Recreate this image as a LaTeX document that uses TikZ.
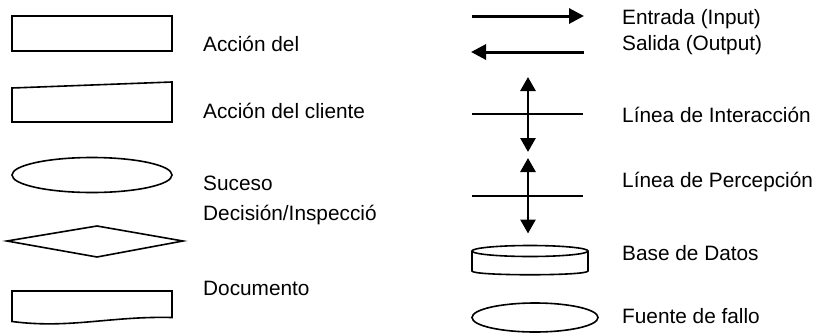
\documentclass[tikz,border=0pt]{standalone}
\usepackage{fontspec}
\setmainfont{Liberation Sans}
\usetikzlibrary{arrows.meta}
\begin{document}
\begin{tikzpicture}[x=1pt,y=-1pt,
  shapeline/.style={draw=black,line width=1.6pt,line join=miter},
  flowarrow/.style={line width=3pt,-{Triangle[length=15pt,width=15pt]}},
  twoway/.style={line width=2.8pt,{Triangle[length=14pt,width=15pt]}-{Triangle[length=14pt,width=15pt]}},
  hline/.style={line width=1.8pt},
  lbl/.style={anchor=base west,inner sep=0pt,font=\fontsize{20.8pt}{26pt}\selectfont}]
\useasboundingbox (0,0) rectangle (822,335);
% left column shapes
\draw[shapeline] (12,16) rectangle (172,51);
\draw[shapeline] (12,88) -- (172,82) -- (172,122) -- (12,122) -- cycle;
\draw[shapeline] (92,175) ellipse [x radius=80, y radius=17.5];
\draw[shapeline] (7,241) -- (97,226) -- (183,241) -- (97,257) -- cycle;
\draw[shapeline] (12,291) -- (172,291) -- (172,317.5)
  .. controls (110,316) and (70,329) .. (12,321.5) -- cycle;
% left labels
\node[lbl] (t1) at (203,51.5) {Acción del};
\node[lbl] (t2) at (203,118) {Acción del cliente};
\node[lbl] (t3) at (203,190.5) {Suceso};
\node[lbl] (t4) at (203,220.5) {Decisión/Inspecció};
\node[lbl] (t5) at (203,295.5) {Documento};
% right column: input / output arrows
\coordinate (inA) at (472,16);
\coordinate (inB) at (584,16);
\coordinate (outA) at (584,52);
\coordinate (outB) at (471,52);
\draw[flowarrow] (inA) -- (inB);
\draw[flowarrow] (outA) -- (outB);
% interaction line
\coordinate (iL) at (472,114);
\coordinate (iR) at (583,114);
\coordinate (iT) at (528,77);
\coordinate (iB) at (528,152);
\draw[hline] (iL) -- (iR);
\draw[twoway] (iT) -- (iB);
% perception line
\coordinate (pL) at (472,196);
\coordinate (pR) at (583,196);
\coordinate (pT) at (528,158);
\coordinate (pB) at (528,233.5);
\draw[hline] (pL) -- (pR);
\draw[twoway] (pT) -- (pB);
% database
\draw[shapeline] (530,251) ellipse [x radius=58, y radius=5.5];
\draw[shapeline] (472,251) -- (472,271)
  .. controls (472,276) and (588,276) .. (588,271) -- (588,251);
% failure source
\draw[shapeline] (535,317.5) ellipse [x radius=63, y radius=14.5];
% right labels
\node[lbl] (r1) at (622,24) {Entrada (Input)};
\node[lbl] (r2) at (622,50) {Salida (Output)};
\node[lbl] (r3) at (622,122) {Línea de Interacción};
\node[lbl] (r4) at (622,187) {Línea de Percepción};
\node[lbl] (r5) at (622,260) {Base de Datos};
\node[lbl] (r6) at (622,323) {Fuente de fallo};
\end{tikzpicture}
\end{document}
